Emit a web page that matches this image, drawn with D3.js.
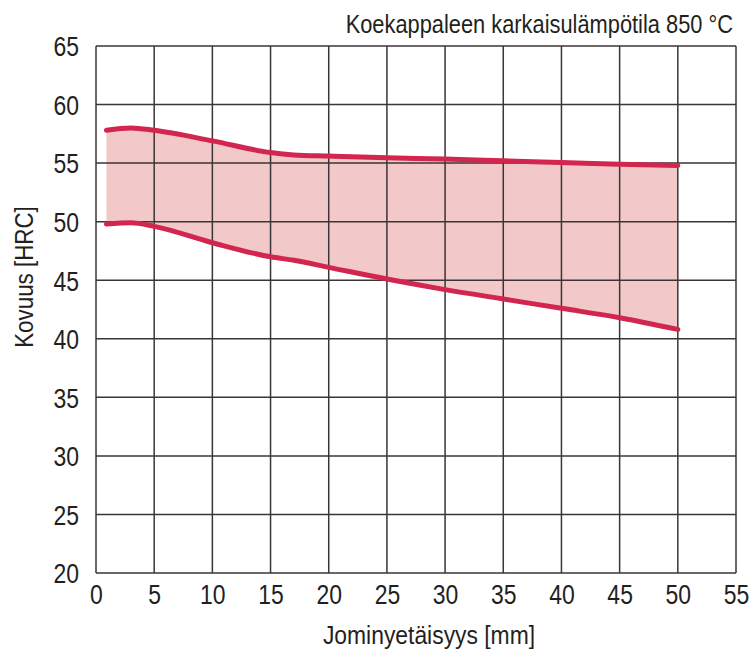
<!DOCTYPE html>
<html lang="fi">
<head>
    <meta charset="UTF-8">
    <title>Jominy</title>
    <script src="https://d3js.org/d3.v7.min.js"></script>
    <style>
        body { margin: 0; background: #fff; }
        text { font-family: "Liberation Sans Narrow", "Arial Narrow", "Liberation Sans", sans-serif; fill: #231f20; }
    </style>
</head>
<body>
<div id="chart"></div>
<script>
    // Data
    var distances = [0.9, 3, 5, 10, 15, 17, 20, 25, 30, 35, 40, 45, 50];
    var upperHrc  = [57.8, 58.0, 57.8, 56.9, 55.9, 55.7, 55.6, 55.45, 55.35, 55.2, 55.05, 54.9, 54.8];
    var lowerHrc  = [49.8, 49.9, 49.6, 48.2, 47.0, 46.7, 46.1, 45.1, 44.2, 43.4, 42.6, 41.8, 40.8];
    var xTicks = [0, 5, 10, 15, 20, 25, 30, 35, 40, 45, 50, 55];
    var yTicks = [20, 25, 30, 35, 40, 45, 50, 55, 60, 65];

    var W = 755, H = 653;
    var margin = {top: 46, right: 19, bottom: 80, left: 96};
    var width = W - margin.left - margin.right;
    var height = H - margin.top - margin.bottom;
    var narrow = 0.82; // condensed look of the original font

    var svg = d3.select("#chart").append("svg")
        .attr("width", W).attr("height", H);
    var g = svg.append("g")
        .attr("transform", "translate(" + margin.left + "," + margin.top + ")");

    var x = d3.scaleLinear().domain([0, 55]).range([0, width]);
    var y = d3.scaleLinear().domain([20, 65]).range([height, 0]);

    var band = distances.map(function(d, i) { return {x: d, hi: upperHrc[i], lo: lowerHrc[i]}; });

    // band fill
    g.append("path")
        .datum(band)
        .attr("fill", "#f2c9c8")
        .attr("d", d3.area()
            .x(function(d) { return x(d.x); })
            .y0(function(d) { return y(d.lo); })
            .y1(function(d) { return y(d.hi); })
            .curve(d3.curveMonotoneX));

    // grid
    g.selectAll(".vgrid").data(xTicks).enter().append("line")
        .attr("x1", function(d) { return x(d); }).attr("x2", function(d) { return x(d); })
        .attr("y1", 0).attr("y2", height)
        .attr("stroke", "#3a3536").attr("stroke-width", 1.5);
    g.selectAll(".hgrid").data(yTicks).enter().append("line")
        .attr("y1", function(d) { return y(d); }).attr("y2", function(d) { return y(d); })
        .attr("x1", 0).attr("x2", width)
        .attr("stroke", "#3a3536").attr("stroke-width", 1.5);

    // curves
    [upperHrc, lowerHrc].forEach(function(vals) {
        g.append("path")
            .datum(distances.map(function(d, i) { return [d, vals[i]]; }))
            .attr("fill", "none")
            .attr("stroke", "#d2264f")
            .attr("stroke-width", 5)
            .attr("stroke-linecap", "round")
            .attr("d", d3.line()
                .x(function(d) { return x(d[0]); })
                .y(function(d) { return y(d[1]); })
                .curve(d3.curveMonotoneX));
    });

    // axes
    var xAxis = g.append("g")
        .attr("transform", "translate(0," + height + ")")
        .call(d3.axisBottom(x).tickValues(xTicks).tickSize(0));
    xAxis.select(".domain").remove();
    xAxis.selectAll("text")
        .style("font-size", "28px")
        .attr("x", 0).attr("y", 0).attr("dy", null)
        .attr("transform", "translate(0,31) scale(" + narrow + ",1)");

    var yAxis = g.append("g")
        .call(d3.axisLeft(y).tickValues(yTicks).tickSize(0));
    yAxis.select(".domain").remove();
    yAxis.selectAll("text")
        .style("font-size", "28px")
        .attr("x", 0).attr("dy", "0.35em")
        .attr("transform", "translate(-17,0) scale(" + narrow + ",1)");

    // titles
    svg.append("text")
        .attr("transform", "translate(429,644) scale(0.88,1)")
        .attr("text-anchor", "middle")
        .style("font-size", "26px")
        .text("Jominyetäisyys [mm]");

    svg.append("text")
        .attr("transform", "translate(33,277) rotate(-90) scale(0.86,1)")
        .attr("text-anchor", "middle")
        .style("font-size", "26px")
        .text("Kovuus [HRC]");

    svg.append("text")
        .attr("transform", "translate(733,33) scale(0.84,1)")
        .attr("text-anchor", "end")
        .style("font-size", "26px")
        .text("Koekappaleen karkaisulämpötila 850 °C");
</script>
</body>
</html>
